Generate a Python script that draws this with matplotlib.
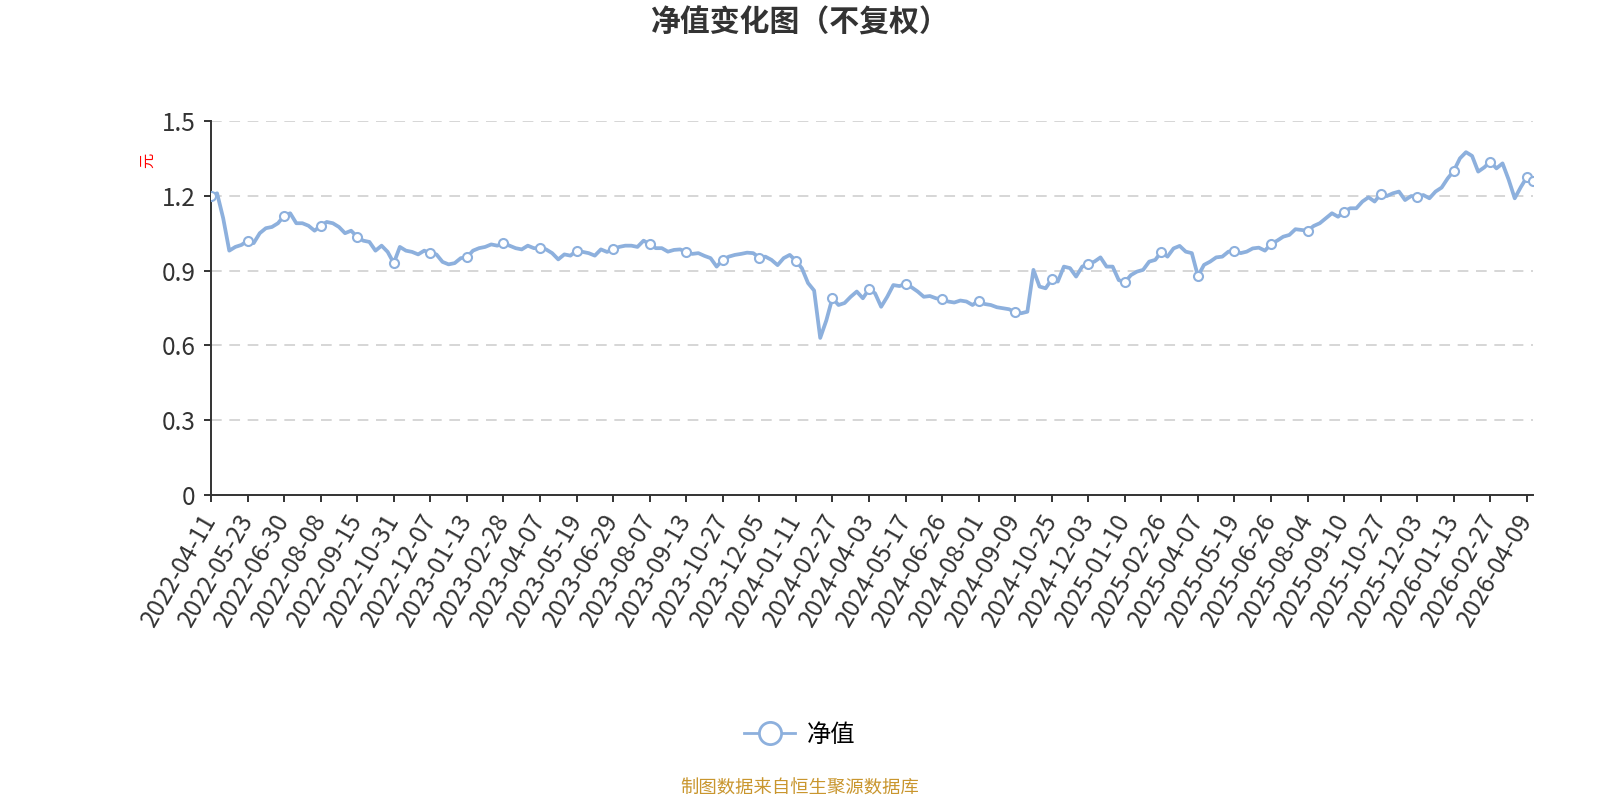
import matplotlib
matplotlib.use("Agg")
import matplotlib.pyplot as plt
from matplotlib.lines import Line2D

plt.rcParams['font.family'] = ['Noto Sans CJK SC', 'DejaVu Sans']

# tick labels, one every 6 points
dates = ["2022-04-11", "2022-05-23", "2022-06-30", "2022-08-08", "2022-09-15", "2022-10-31",
         "2022-12-07", "2023-01-13", "2023-02-28", "2023-04-07", "2023-05-19", "2023-06-29",
         "2023-08-07", "2023-09-13", "2023-10-27", "2023-12-05", "2024-01-11", "2024-02-27",
         "2024-04-03", "2024-05-17", "2024-06-26", "2024-08-01", "2024-09-09", "2024-10-25",
         "2024-12-03", "2025-01-10", "2025-02-26", "2025-04-07", "2025-05-19", "2025-06-26",
         "2025-08-04", "2025-09-10", "2025-10-27", "2025-12-03", "2026-01-13", "2026-02-27",
         "2026-04-09"]

# net value
nav = [1.20, 1.21, 1.11, 0.98, 0.995, 1.003, 1.02, 1.01, 1.05, 1.07,
       1.075, 1.09, 1.12, 1.13, 1.09, 1.09, 1.08, 1.06, 1.08, 1.095,
       1.09, 1.075, 1.05, 1.06, 1.035, 1.02, 1.015, 0.98, 1.00, 0.975,
       0.93, 0.995, 0.98, 0.975, 0.965, 0.98, 0.97, 0.965, 0.935, 0.925,
       0.93, 0.95, 0.953, 0.98, 0.99, 0.995, 1.005, 1.00, 1.01, 1.00,
       0.99, 0.985, 1.00, 0.99, 0.99, 0.985, 0.97, 0.945, 0.965, 0.96,
       0.98, 0.975, 0.97, 0.96, 0.985, 0.975, 0.985, 0.995, 1.00, 1.00,
       0.995, 1.02, 1.007, 0.99, 0.99, 0.976, 0.983, 0.985, 0.975, 0.967,
       0.97, 0.959, 0.95, 0.916, 0.943, 0.956, 0.963, 0.967, 0.972, 0.97,
       0.952, 0.956, 0.943, 0.922, 0.95, 0.963, 0.94, 0.909, 0.85, 0.82,
       0.63, 0.70, 0.79, 0.762, 0.77, 0.795, 0.816, 0.789, 0.825, 0.809,
       0.755, 0.795, 0.842, 0.838, 0.846, 0.833, 0.816, 0.795, 0.798, 0.789,
       0.785, 0.776, 0.772, 0.78, 0.776, 0.762, 0.78, 0.766, 0.762, 0.753,
       0.749, 0.745, 0.733, 0.729, 0.735, 0.903, 0.836, 0.829, 0.865, 0.856,
       0.916, 0.91, 0.876, 0.916, 0.927, 0.936, 0.953, 0.916, 0.916, 0.862,
       0.853, 0.882, 0.896, 0.903, 0.936, 0.943, 0.976, 0.956, 0.989, 0.999,
       0.976, 0.97, 0.878, 0.923, 0.936, 0.953, 0.956, 0.976, 0.98, 0.97,
       0.976, 0.989, 0.992, 0.98, 1.007, 1.02, 1.036, 1.043, 1.066, 1.063,
       1.06, 1.079, 1.09, 1.11, 1.13, 1.116, 1.137, 1.15, 1.15, 1.177,
       1.194, 1.177, 1.207, 1.199, 1.21, 1.217, 1.183, 1.199, 1.197, 1.203,
       1.19, 1.217, 1.233, 1.27, 1.30, 1.35, 1.375, 1.36, 1.297, 1.314,
       1.337, 1.31, 1.33, 1.265, 1.19, 1.235, 1.275, 1.26]

yticks = [0, 0.3, 0.6, 0.9, 1.2, 1.5]
ytick_labels = ["0", "0.3", "0.6", "0.9", "1.2", "1.5"]

step = 6
line_color = "#8DB0DD"

fig = plt.figure(figsize=(16, 8), dpi=100)
ax = fig.add_axes([211 / 1600, 1 - 495 / 800, 1322 / 1600, 374 / 800])

x = list(range(len(nav)))
marks = list(range(0, len(nav), step)) + [len(nav) - 1]
ax.plot(x, nav, color=line_color, lw=2.7, marker="o", markevery=marks,
        markersize=6.5, markerfacecolor="white", markeredgecolor=line_color,
        markeredgewidth=1.5, zorder=3)

ax.set_xlim(0, len(nav) - 1)
ax.set_ylim(0, 1.5)
ax.set_yticks(yticks)
ax.set_yticklabels(ytick_labels)
ax.set_xticks(list(range(0, step * (len(dates) - 1) + 1, step)))
ax.set_xticklabels(dates, rotation=60, ha="right", va="center", rotation_mode="anchor")

for y in yticks[1:]:
    ax.axhline(y, color="#cccccc", lw=1.1, ls=(0, (7, 5)), zorder=1)

for s in ["top", "right"]:
    ax.spines[s].set_visible(False)
for s in ["left", "bottom"]:
    ax.spines[s].set_color("#333333")
    ax.spines[s].set_linewidth(1.4)
ax.tick_params(axis="both", colors="#333333", labelsize=17.5, length=5, width=1.4)
ax.tick_params(axis="x", pad=10)
ax.tick_params(axis="y", pad=6)

fig.text(0.5, 1 - 23 / 800, "净值变化图（不复权）", ha="center", va="center",
         fontsize=21.5, fontweight="bold", color="#333333")
fig.text(148 / 1600, 1 - 160 / 800, "元", rotation=90, ha="center", va="center",
         fontsize=11, color="red")

handle = Line2D([0], [0], color=line_color, lw=2, marker="o", markersize=16,
                markerfacecolor="white", markeredgecolor=line_color, markeredgewidth=2)
fig.legend([handle], ["净值"], loc="center", bbox_to_anchor=(0.5, 1 - 735 / 800),
           frameon=False, fontsize=17.5, handlelength=2.1, handletextpad=0.5)

fig.text(0.5, 1 - 789 / 800, "制图数据来自恒生聚源数据库", ha="center", va="center",
         fontsize=13.2, color="#C9962E")

fig.savefig("out.png", dpi=100)
